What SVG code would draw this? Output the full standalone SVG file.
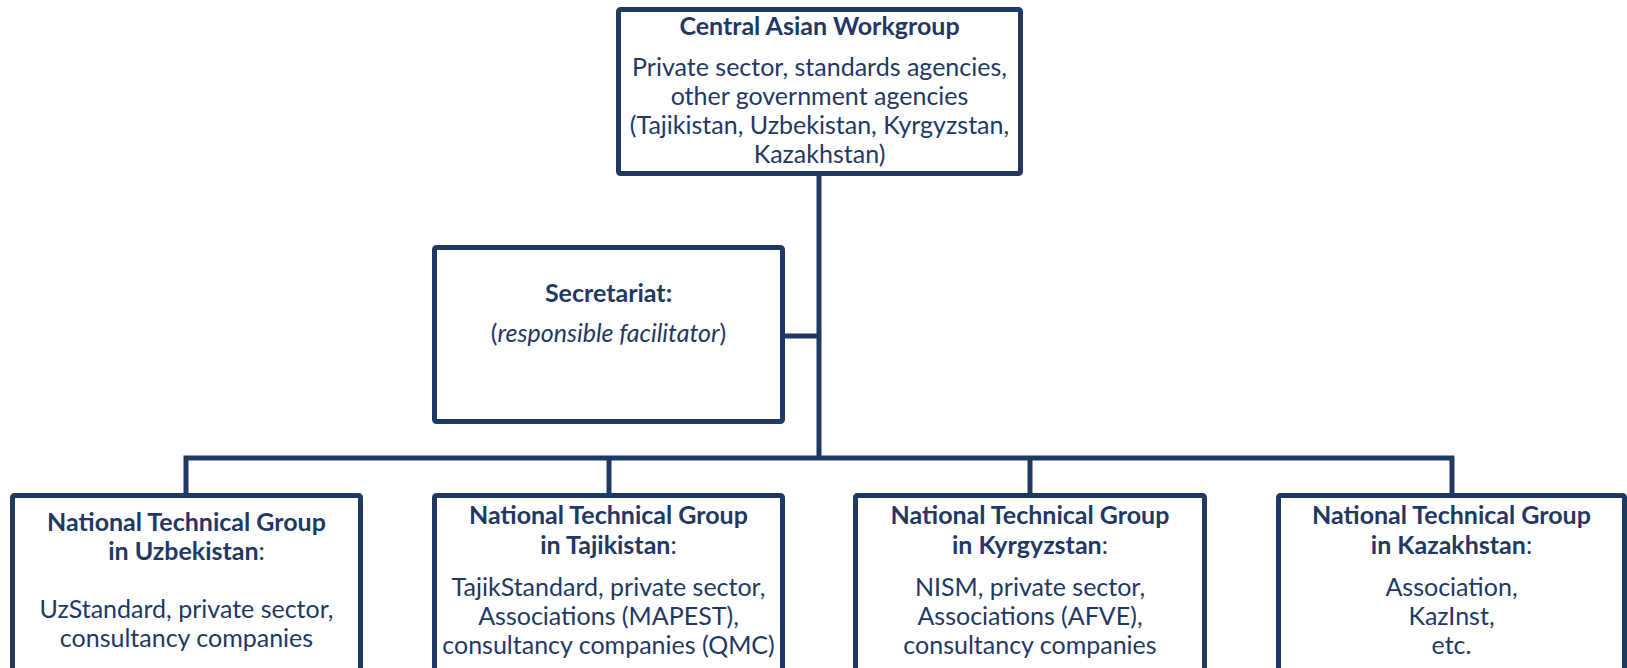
<svg xmlns="http://www.w3.org/2000/svg" width="1627" height="668" viewBox="0 0 1627 668">
<style>
.box{fill:#fff;stroke:#1F3864;stroke-width:5}
.con{fill:none;stroke:#1F3864;stroke-width:5;stroke-linejoin:miter}
text{font-family:Lato,"Liberation Sans",sans-serif;font-size:25px;fill:#1F3864;text-anchor:middle}
.b{font-weight:bold}
.i{font-style:italic}
</style>
<rect width="1627" height="668" fill="#fff"/>
<g id="connectors">
<path class="con" d="M819,174 V458"/>
<path class="con" d="M783,336 H819"/>
<path class="con" d="M186,496 V458 H1452 V496"/>
<path class="con" d="M609,458 V496"/>
<path class="con" d="M1030,458 V496"/>
</g>
<g id="central">
<rect class="box" x="618.5" y="9.5" width="402" height="164" rx="2"/>
<text class="b" x="819.5" y="35">Central Asian Workgroup</text>
<text x="819.5" y="76">Private sector, standards agencies,</text>
<text x="819.5" y="105">other government agencies</text>
<text x="819.5" y="134">(Tajikistan, Uzbekistan, Kyrgyzstan,</text>
<text x="819.5" y="163">Kazakhstan)</text>
</g>
<g id="secretariat">
<rect class="box" x="434.5" y="247.5" width="348" height="174" rx="2"/>
<text class="b" x="608.5" y="302">Secretariat:</text>
<text x="608.5" y="342">(<tspan class="i">responsible facilitator</tspan>)</text>
</g>
<g id="ntg-uz">
<rect class="box" x="12.5" y="495.5" width="348" height="200" rx="2"/>
<text class="b" x="186.5" y="531">National Technical Group</text>
<text x="186.5" y="560"><tspan class="b">in Uzbekistan</tspan>:</text>
<text x="186.5" y="618">UzStandard, private sector,</text>
<text x="186.5" y="647">consultancy companies</text>
</g>
<g id="ntg-tj">
<rect class="box" x="434.5" y="495.5" width="348" height="200" rx="2"/>
<text class="b" x="608.5" y="524">National Technical Group</text>
<text x="608.5" y="554"><tspan class="b">in Tajikistan</tspan>:</text>
<text x="608.5" y="596">TajikStandard, private sector,</text>
<text x="608.5" y="625">Associations (MAPEST),</text>
<text x="608.5" y="654">consultancy companies (QMC)</text>
</g>
<g id="ntg-kg">
<rect class="box" x="855.5" y="495.5" width="349" height="200" rx="2"/>
<text class="b" x="1030" y="524">National Technical Group</text>
<text x="1030" y="554"><tspan class="b">in Kyrgyzstan</tspan>:</text>
<text x="1030" y="596">NISM, private sector,</text>
<text x="1030" y="625">Associations (AFVE),</text>
<text x="1030" y="654">consultancy companies</text>
</g>
<g id="ntg-kz">
<rect class="box" x="1278.5" y="495.5" width="346" height="200" rx="2"/>
<text class="b" x="1451.5" y="524">National Technical Group</text>
<text x="1451.5" y="554"><tspan class="b">in Kazakhstan</tspan>:</text>
<text x="1451.5" y="596">Association,</text>
<text x="1451.5" y="625">KazInst,</text>
<text x="1451.5" y="654">etc.</text>
</g>
</svg>
